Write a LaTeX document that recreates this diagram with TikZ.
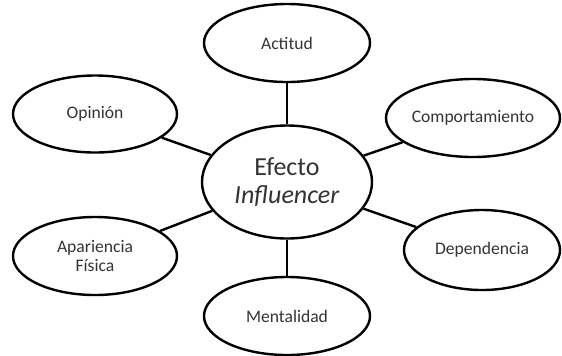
\documentclass[tikz,border=0pt]{standalone}
\usepackage{fontspec}
\setmainfont{Carlito}
\usetikzlibrary{shapes.geometric}

\begin{document}
\begin{tikzpicture}[x=0.5pt,y=-0.5pt,
		bubble/.style={draw,ellipse,line width=1.2pt,inner sep=0pt,align=center,
			text=black!80,font=\fontsize{8.8}{9.8}\selectfont},
		link/.style={line width=1.2pt}]
	\useasboundingbox (0,0) rectangle (562,355);
	% centre
	\node [bubble,minimum width=85pt,minimum height=56.5pt,
			font=\fontsize{13}{14}\selectfont] (efecto) at (287,182)
{Efecto\\\textit{Influencer}};
	% around it
	\node [bubble,minimum width=83pt,minimum height=39pt] (actitud) at (287,43) {Actitud};
	\node [bubble,minimum width=82pt,minimum height=38.5pt] (opinion) at (95,114) {Opinión};
	\node [bubble,minimum width=87pt,minimum height=39pt] (comport) at (473,118) {Comportamiento};
	\node [bubble,minimum width=82pt,minimum height=39pt] (apariencia) at (95,256) {Apariencia\\Física};
	\node [bubble,minimum width=78pt,minimum height=40pt] (depend) at (482,250) {Dependencia};
	\node [bubble,minimum width=83pt,minimum height=39pt] (mental) at (287,316) {Mentalidad};
	\foreach \n in {actitud,opinion,comport,apariencia,depend,mental}
		\draw [link] (\n) -- (efecto);
\end{tikzpicture}
\end{document}
